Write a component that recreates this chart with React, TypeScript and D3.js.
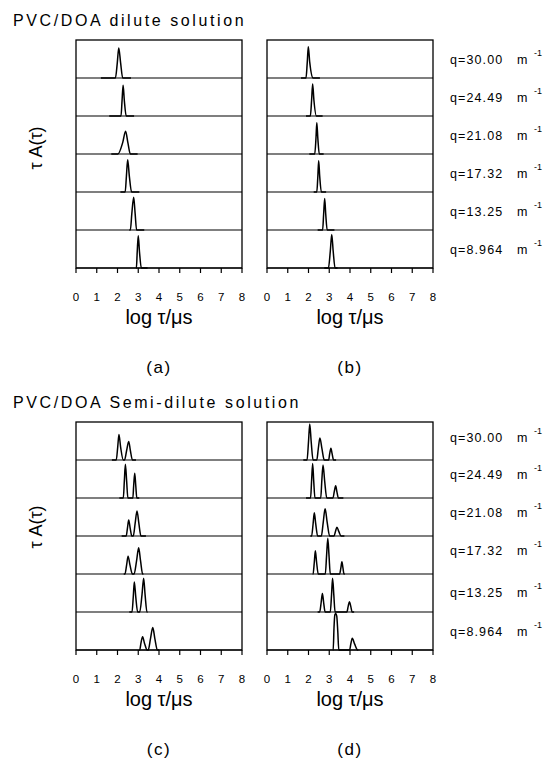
import React from "react";
import * as d3 from "d3";

type Pt = [number, number];

// q values (top row first)
const qLabels = ["q=30.00", "q=24.49", "q=21.08", "q=17.32", "q=13.25", "q=8.964"];
const xTicks = [0, 1, 2, 3, 4, 5, 6, 7, 8];
const panelLetters = ["(a)", "(b)", "(c)", "(d)"];
const groupTitles = ["PVC/DOA dilute solution", "PVC/DOA Semi-dilute solution"];

// Panel (a): dilute, each row a list of [log tau, normalized tauA(tau)]
const panelA: Pt[][] = [
  [[1.20,0],[1.90,0],[1.99,0.40],[2.06,0.79],[2.15,0.40],[2.25,0],[2.65,0]],
  [[1.60,0],[2.17,0],[2.22,0.41],[2.27,0.81],[2.33,0.40],[2.42,0],[2.80,0]],
  [[1.70,0],[2.02,0],[2.25,0.30],[2.39,0.60],[2.50,0.30],[2.62,0],[2.97,0]],
  [[2.14,0],[2.37,0],[2.43,0.42],[2.49,0.85],[2.57,0.42],[2.68,0],[3.05,0]],
  [[2.57,0],[2.62,0],[2.69,0.43],[2.78,0.86],[2.85,0.43],[2.92,0],[3.29,0]],
  [[2.89,0],[2.91,0],[2.95,0.42],[3.00,0.85],[3.06,0.42],[3.15,0],[3.45,0]],
];

// Panel (b): dilute
const panelB: Pt[][] = [
  [[1.64,0],[1.88,0],[1.94,0.41],[1.99,0.82],[2.06,0.41],[2.22,0],[2.55,0]],
  [[1.88,0],[2.09,0],[2.15,0.42],[2.20,0.84],[2.26,0.42],[2.38,0],[2.68,0]],
  [[2.04,0],[2.30,0],[2.36,0.41],[2.40,0.82],[2.45,0.41],[2.52,0],[2.73,0]],
  [[2.25,0],[2.40,0],[2.45,0.41],[2.49,0.82],[2.54,0.41],[2.62,0],[2.85,0]],
  [[2.44,0],[2.68,0],[2.73,0.42],[2.78,0.83],[2.83,0.42],[2.90,0],[3.25,0]],
  [[2.76,0],[2.96,0],[3.05,0.44],[3.12,0.88],[3.19,0.44],[3.28,0],[3.40,0]],
];

// Panel (c): semi-dilute
const panelC: Pt[][] = [
  [[1.73,0],[1.94,0],[2.01,0.34],[2.07,0.67],[2.15,0.34],[2.28,0],[2.34,0],[2.44,0.25],[2.54,0.49],[2.62,0.25],[2.72,0],[2.89,0]],
  [[2.09,0],[2.28,0],[2.33,0.45],[2.38,0.89],[2.44,0.45],[2.50,0],[2.74,0],[2.78,0.33],[2.83,0.65],[2.88,0.33],[2.93,0],[3.05,0]],
  [[2.20,0],[2.42,0],[2.48,0.21],[2.54,0.42],[2.61,0.21],[2.69,0],[2.76,0],[2.85,0.33],[2.94,0.66],[3.03,0.33],[3.13,0],[3.37,0]],
  [[2.30,0],[2.36,0],[2.44,0.24],[2.51,0.47],[2.60,0.24],[2.72,0],[2.80,0],[2.92,0.35],[3.02,0.69],[3.11,0.35],[3.21,0],[3.25,0]],
  [[2.57,0],[2.70,0],[2.76,0.40],[2.81,0.79],[2.88,0.40],[2.97,0],[3.07,0],[3.18,0.45],[3.26,0.89],[3.33,0.45],[3.42,0],[3.45,0]],
  [[3.04,0],[3.07,0],[3.13,0.18],[3.21,0.35],[3.30,0.18],[3.43,0],[3.48,0],[3.59,0.30],[3.70,0.59],[3.80,0.30],[3.92,0],[4.00,0]],
];

// Panel (d): semi-dilute
const panelD: Pt[][] = [
  [[1.75,0],[1.93,0],[2.00,0.48],[2.06,0.95],[2.13,0.48],[2.22,0],[2.40,0],[2.47,0.29],[2.55,0.58],[2.65,0.29],[2.76,0],[2.97,0],[3.02,0.16],[3.08,0.31],[3.14,0.16],[3.21,0],[3.33,0]],
  [[1.88,0],[2.10,0],[2.15,0.46],[2.20,0.91],[2.25,0.46],[2.31,0],[2.59,0],[2.64,0.44],[2.70,0.87],[2.78,0.44],[2.88,0],[3.18,0],[3.24,0.16],[3.31,0.32],[3.37,0.16],[3.44,0],[3.68,0]],
  [[2.09,0],[2.15,0],[2.22,0.31],[2.28,0.61],[2.35,0.31],[2.44,0],[2.62,0],[2.71,0.36],[2.80,0.72],[2.90,0.36],[3.02,0],[3.23,0],[3.30,0.12],[3.37,0.23],[3.46,0.12],[3.57,0],[3.73,0]],
  [[2.20,0],[2.22,0],[2.28,0.31],[2.33,0.61],[2.39,0.31],[2.47,0],[2.81,0],[2.87,0.47],[2.93,0.94],[2.99,0.47],[3.05,0],[3.50,0],[3.56,0.16],[3.61,0.32],[3.66,0.16],[3.71,0],[3.75,0]],
  [[2.44,0],[2.54,0],[2.61,0.25],[2.67,0.49],[2.73,0.25],[2.80,0],[3.05,0],[3.11,0.45],[3.16,0.89],[3.22,0.45],[3.28,0],[3.85,0],[3.91,0.14],[3.97,0.27],[4.04,0.14],[4.10,0],[4.20,0]],
  [[3.17,0],[3.19,0],[3.23,0.60],[3.27,0.93],[3.31,0.96],[3.36,0.90],[3.41,0.50],[3.46,0],[3.98,0],[4.04,0.16],[4.11,0.31],[4.22,0.16],[4.37,0],[4.40,0]],
];

const FONT = "'Liberation Sans', Arial, Helvetica, sans-serif";

const W = 551;
const H = 759;
const ROW_H = 38;
const N_ROWS = 6;
const PANEL_X = [76, 267];
const PANEL_W = 166;
const GROUP_TOP = [40, 422];

function Panel({ x0, y0, rows, letter }: { x0: number; y0: number; rows: Pt[][]; letter: string }) {
  const x = d3.scaleLinear().domain([0, 8]).range([x0, x0 + PANEL_W]);
  const bottom = y0 + ROW_H * N_ROWS;
  const cx = x0 + PANEL_W / 2;
  return (
    <g>
      {rows.map((pts, i) => {
        const rb = y0 + ROW_H * (i + 1);
        const y = d3.scaleLinear().domain([0, 1]).range([rb, rb - ROW_H]);
        const line = d3
          .line<Pt>()
          .x((d) => x(d[0]))
          .y((d) => y(d[1]))
          .curve(d3.curveMonotoneX);
        return (
          <g key={i}>
            <line x1={x0} x2={x0 + PANEL_W} y1={rb} y2={rb} stroke="#000" strokeWidth={1.1} />
            <path d={line(pts) || ""} fill="none" stroke="#000" strokeWidth={1.5} strokeLinejoin="round" />
          </g>
        );
      })}
      <rect x={x0} y={y0} width={PANEL_W} height={ROW_H * N_ROWS} fill="none" stroke="#000" strokeWidth={1.3} />
      {xTicks.map((t) => (
        <g key={t}>
          <line x1={x(t)} x2={x(t)} y1={bottom} y2={bottom + 5} stroke="#000" strokeWidth={1.2} />
          <text x={x(t)} y={bottom + 33} textAnchor="middle" fontSize={11.5} fontFamily={FONT} fill="#000">
            {t}
          </text>
        </g>
      ))}
      <text x={cx} y={bottom + 56} textAnchor="middle" fontSize={20} fontFamily={FONT} fill="#000">
        log τ/μs
      </text>
      <text x={cx} y={bottom + 105} textAnchor="middle" fontSize={17} letterSpacing={1.5} fontFamily={FONT} fill="#000">
        {letter}
      </text>
    </g>
  );
}

export default function App() {
  const groups = [
    { rows: [panelA, panelB], letters: [panelLetters[0], panelLetters[1]], title: groupTitles[0], labelYOff: [0, 0, 0, 0, 0, 0], yLabelC: 148 },
    { rows: [panelC, panelD], letters: [panelLetters[2], panelLetters[3]], title: groupTitles[1], labelYOff: [-4, -5, -5, -5, -1, 0], yLabelC: 527 },
  ];
  return (
    <svg width={W} height={H} style={{ display: "block", position: "absolute", left: 0, top: 0 }}>
      <rect width={W} height={H} fill="#fff" />
      {groups.map((g, gi) => {
        const y0 = GROUP_TOP[gi];
        return (
          <g key={gi}>
            <text x={13} y={y0 - 14} fontSize={16} letterSpacing={2.6} fontFamily={FONT} fill="#000">
              {g.title}
            </text>
            <text
              transform={`translate(42,${g.yLabelC}) rotate(-90)`}
              textAnchor="middle"
              fontSize={18}
              fontFamily={FONT}
              fill="#000"
            >
              τ A(τ)
            </text>
            {g.rows.map((rows, pi) => (
              <Panel key={pi} x0={PANEL_X[pi]} y0={y0} rows={rows} letter={g.letters[pi]} />
            ))}
            {qLabels.map((q, i) => {
              const cy = y0 + ROW_H * i + ROW_H / 2 + g.labelYOff[i];
              return (
                <g key={q}>
                  <text x={450} y={cy + 4.5} fontSize={12.5} letterSpacing={1.1} fontFamily={FONT} fill="#000">
                    {q}
                  </text>
                  <text x={517} y={cy + 4.5} fontSize={12.5} fontFamily={FONT} fill="#000">
                    m
                  </text>
                  <text x={534} y={cy - 3} fontSize={9} fontFamily={FONT} fill="#000">
                    -1
                  </text>
                </g>
              );
            })}
          </g>
        );
      })}
    </svg>
  );
}
